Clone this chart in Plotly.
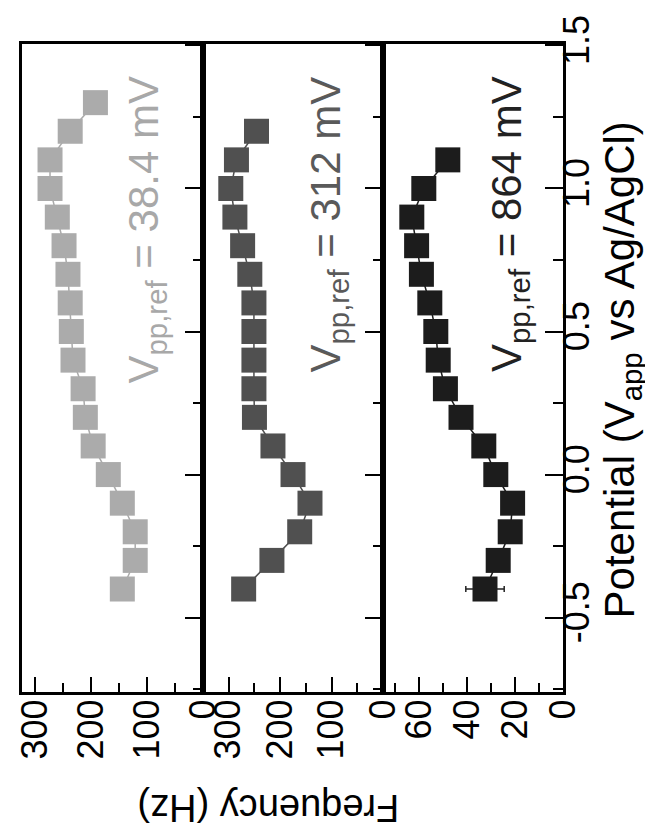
import plotly.graph_objects as go
from plotly.subplots import make_subplots

# ---- data ----
potential_1 = [-0.4, -0.3, -0.2, -0.1, 0.0, 0.1, 0.2, 0.3, 0.4, 0.5, 0.6, 0.7, 0.8, 0.9, 1.0, 1.1, 1.2, 1.3]
freq_1 = [144, 121, 121, 144, 169, 196, 210, 214, 232, 235, 237, 241, 248, 260, 273, 273, 237, 192]

potential_2 = [-0.4, -0.3, -0.2, -0.1, 0.0, 0.1, 0.2, 0.3, 0.4, 0.5, 0.6, 0.7, 0.8, 0.9, 1.0, 1.1, 1.2]
freq_2 = [271, 216, 162, 142, 175, 214, 250, 251, 251, 251, 251, 259, 273, 288, 296, 285, 246]

potential_3 = [-0.4, -0.3, -0.2, -0.1, 0.0, 0.1, 0.2, 0.3, 0.4, 0.5, 0.6, 0.7, 0.8, 0.9, 1.0, 1.1]
freq_3 = [32.5, 27, 22, 21, 28, 33, 42.5, 49, 52, 53, 55.5, 59, 61, 63, 58, 48]
err_3 = [8, 4, 4, 4, 4, 4, 4, 4, 4, 4, 4, 4, 4, 4, 4, 4]

vpp_labels = ["38.4 mV", "312 mV", "864 mV"]
potential_ticks = [-0.5, 0.0, 0.5, 1.0, 1.5]
potential_ticktext = ["-0.5", "0.0", "0.5", "1.0", "1.5"]
x_title = "Potential (V<sub>app</sub> vs Ag/AgCl)"
y_title = "Frequency (Hz)"

# ---- styling ----
FONT = "Liberation Sans, Arial, sans-serif"
marker_colors = ["#ababab", "#505050", "#1c1c1c"]
text_colors = ["#a8a8a8", "#5a5a5a", "#222222"]
freq_ranges = [[323, 0], [350, 0], [75, 0]]
freq_dticks = [100, 100, 20]
domains = [[0.0, 0.3346], [0.3346, 0.6673], [0.6673, 1.0]]
ann_freq = [100, 106, 22.5]

fig = make_subplots(rows=1, cols=3, horizontal_spacing=0)

series = [(potential_1, freq_1, None), (potential_2, freq_2, None), (potential_3, freq_3, err_3)]
for i, (pot, fr, err) in enumerate(series):
    tr = go.Scatter(
        x=fr, y=pot, mode="lines+markers",
        marker=dict(symbol="square", size=25, color=marker_colors[i], line=dict(width=0)),
        line=dict(color=marker_colors[i], width=1.5),
        showlegend=False,
    )
    if err is not None:
        tr.error_x = dict(type="data", array=err, color="#222222", thickness=1.5, width=3)
    fig.add_trace(tr, row=1, col=i + 1)

axis_line = dict(showline=True, linecolor="black", linewidth=3, mirror=True,
                 showgrid=False, zeroline=False, automargin=False)

for i in range(3):
    fig.update_xaxes(
        domain=domains[i], range=freq_ranges[i], dtick=freq_dticks[i], tick0=0,
        ticks="inside", ticklen=15, tickwidth=2, tickcolor="black",
        minor=dict(dtick=freq_dticks[i] / 2, ticks="inside", ticklen=9, tickwidth=2, tickcolor="black"),
        tickangle=-90, tickfont=dict(family=FONT, size=36, color="black"),
        ticklabelstandoff=-10,
        **axis_line, row=1, col=i + 1,
    )
    fig.update_yaxes(
        range=[-0.76, 1.505], side="right",
        tickvals=potential_ticks, ticktext=potential_ticktext,
        ticks="inside", ticklen=18, tickwidth=2, tickcolor="black",
        minor=dict(dtick=0.25, tick0=0, ticks="inside", ticklen=10, tickwidth=2, tickcolor="black"),
        showticklabels=(i == 2), tickangle=-90,
        tickfont=dict(family=FONT, size=36, color="black"),
        ticklabelstandoff=-20,
        **axis_line, row=1, col=i + 1,
    )
    fig.add_annotation(
        x=ann_freq[i], y=1.40, xref=f"x{i+1 if i else ''}", yref=f"y{i+1 if i else ''}",
        text=f"V<sub>pp,ref</sub> = {vpp_labels[i]}", textangle=-90,
        xanchor="center", yanchor="top", showarrow=False,
        font=dict(family=FONT, size=42, color=text_colors[i]),
    )

fig.add_annotation(
    x=1.110, y=0.497, xref="paper", yref="paper", text=x_title, textangle=-90,
    xanchor="center", yanchor="middle", showarrow=False,
    font=dict(family=FONT, size=42, color="black"),
)
fig.add_annotation(
    x=0.455, y=-0.179, xref="paper", yref="paper", text=y_title, textangle=180,
    xanchor="center", yanchor="middle", showarrow=False,
    font=dict(family=FONT, size=38, color="black"),
)

fig.update_layout(
    width=653, height=836,
    margin=dict(l=14, r=98, t=36, b=152),
    paper_bgcolor="white", plot_bgcolor="white",
    font=dict(family=FONT, color="black"),
)

fig.write_html("out.html")
